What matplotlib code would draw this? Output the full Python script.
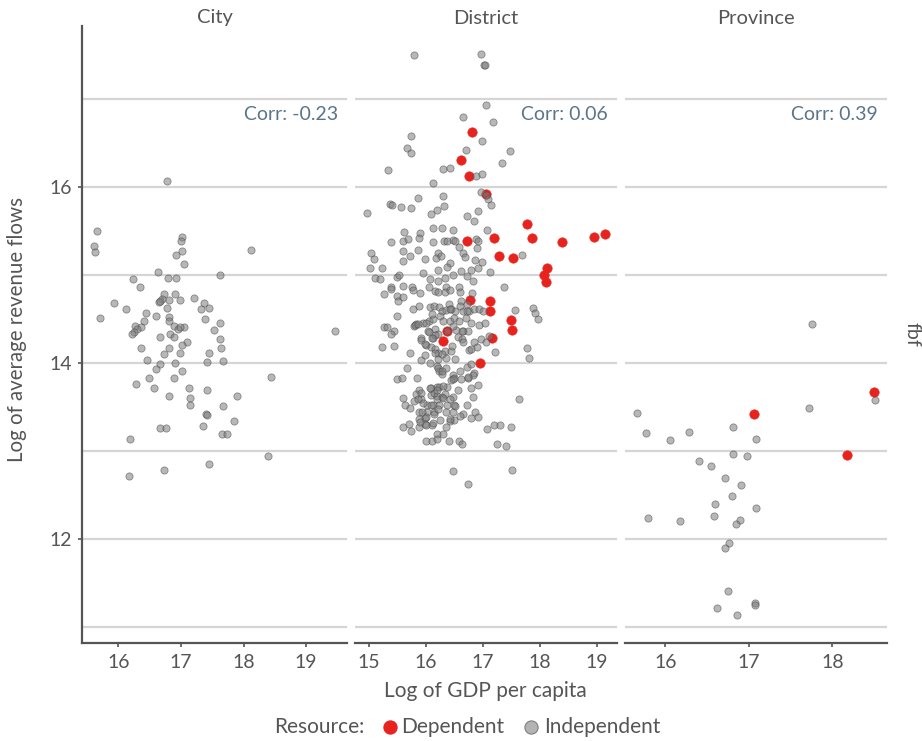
import matplotlib
matplotlib.use("Agg")
import matplotlib.pyplot as plt
from matplotlib.lines import Line2D

plt.rcParams["font.family"] = ["Lato", "DejaVu Sans"]

# ---------------- data ----------------
panels = ["City", "District", "Province"]
corr_labels = ["Corr: -0.23", "Corr: 0.06", "Corr: 0.39"]
legend_title = "Resource:"
legend_labels = ["Dependent", "Independent"]

city_gdp = [16.77, 15.66, 15.61, 15.62, 17.01, 17.00, 17.02, 16.92, 17.05, 18.12,
            16.63, 16.79, 16.92, 17.63, 16.23, 16.35, 16.73, 16.91, 17.20, 15.93,
            16.12, 16.70, 16.65, 16.67, 16.81, 16.98, 17.36, 17.32, 17.45, 16.77,
            16.44, 16.60, 15.71, 16.41, 16.81, 16.80, 17.38, 17.63, 16.27, 16.36,
            16.29, 16.25, 16.22, 16.88, 16.95, 17.04, 16.98, 17.53, 19.46, 16.83,
            16.89, 16.67, 17.10, 17.01, 17.63, 17.64, 16.36, 16.81, 16.72, 16.99,
            17.45, 16.45, 16.66, 16.90, 17.41, 17.67, 16.60, 17.01, 16.49, 16.88,
            18.44, 16.28, 16.57, 17.13, 17.41, 16.80, 17.90, 17.15, 17.15, 17.67,
            17.40, 17.42, 17.85, 17.35, 16.67, 16.76, 17.65, 17.73, 16.19, 18.39,
            17.45, 16.73, 16.17]
city_rev = [16.07, 15.50, 15.33, 15.26, 15.43, 15.39, 15.27, 15.23, 15.13, 15.29,
            15.04, 14.97, 14.97, 15.00, 14.95, 14.86, 14.78, 14.78, 14.74, 14.68,
            14.61, 14.73, 14.69, 14.71, 14.72, 14.72, 14.68, 14.62, 14.63, 14.63,
            14.57, 14.54, 14.51, 14.48, 14.52, 14.48, 14.50, 14.45, 14.42, 14.41,
            14.39, 14.35, 14.33, 14.42, 14.39, 14.41, 14.41, 14.38, 14.36, 14.33,
            14.30, 14.30, 14.24, 14.21, 14.27, 14.17, 14.17, 14.17, 14.10, 14.12,
            14.11, 14.04, 13.99, 14.00, 14.01, 14.02, 13.93, 13.91, 13.83, 13.83,
            13.84, 13.76, 13.72, 13.72, 13.70, 13.63, 13.63, 13.60, 13.53, 13.51,
            13.42, 13.41, 13.34, 13.29, 13.26, 13.26, 13.20, 13.20, 13.14, 12.95,
            12.86, 12.79, 12.72]

district_dep_gdp = [16.81, 16.62, 16.75, 17.06, 17.77, 16.73, 17.19, 17.86, 18.39, 18.95,
                    19.14, 17.28, 17.52, 18.13, 18.07, 18.10, 16.78, 17.13, 17.13, 17.49,
                    17.51, 16.37, 17.16, 16.30, 16.95]
district_dep_rev = [16.63, 16.31, 16.13, 15.92, 15.58, 15.39, 15.42, 15.42, 15.38, 15.43,
                    15.47, 15.22, 15.19, 15.08, 15.00, 14.92, 14.72, 14.71, 14.59, 14.49,
                    14.38, 14.37, 14.28, 14.25, 14.00]

district_ind_gdp = [15.79, 16.97, 17.02, 17.03, 17.06, 16.65, 17.17, 15.74, 16.98, 15.68,
                    15.74, 16.70, 17.48, 17.34, 15.34, 16.31, 16.43, 16.88, 16.99, 16.12,
                    16.97, 17.06, 16.31, 17.09, 17.14, 15.86, 15.37, 15.41, 15.57, 15.75,
                    16.32, 16.20, 14.97, 16.09, 16.73, 16.92, 16.84, 15.62, 15.90, 16.12,
                    16.29, 16.48, 17.07, 15.40, 15.60, 15.69, 15.88, 16.13, 16.32, 16.37,
                    16.47, 16.51, 16.88, 16.91, 16.58, 16.90, 15.04, 15.60, 15.87, 16.21,
                    16.66, 17.68, 15.09, 15.73, 15.99, 16.18, 16.26, 16.43, 16.69, 16.86,
                    16.98, 15.02, 15.23, 16.22, 16.37, 16.61, 16.80, 16.91, 17.12, 15.12,
                    15.20, 15.49, 15.53, 15.96, 16.07, 16.21, 16.34, 16.48, 16.72, 16.83,
                    17.37, 15.40, 15.61, 15.76, 16.06, 16.36, 16.59, 15.60,
                    15.27, 15.39, 15.50, 15.52, 15.61, 15.77, 15.90, 16.16, 16.21, 16.33,
                    16.43, 16.60, 16.81, 16.41, 16.61, 16.73, 15.78, 15.89, 16.08, 16.14,
                    16.23, 16.29, 16.36, 16.45, 16.52, 16.65, 16.76, 16.84, 16.93, 17.01,
                    17.57, 17.87, 17.92, 17.97, 15.50, 15.79, 15.83, 15.96, 16.06, 16.13,
                    16.11, 16.25, 16.30, 16.43, 16.50, 16.59, 16.71, 16.80, 16.94, 17.04,
                    15.27, 15.33, 15.45, 15.39, 16.38, 16.17, 16.04, 15.92, 16.13, 16.21,
                    16.53, 16.57, 16.63, 16.66, 16.74, 16.85, 16.97, 17.05, 17.11, 15.23,
                    15.45, 15.73, 16.00, 16.09, 16.17, 16.21, 16.33, 16.44, 16.51, 16.76,
                    16.89, 17.21, 17.78, 17.80, 15.91, 15.99, 16.07, 16.36, 16.73, 16.79,
                    15.67, 16.20, 16.36, 16.23, 16.28, 16.60, 16.85, 15.50, 15.59, 15.85,
                    16.47, 16.50, 16.45, 16.62, 16.74, 16.82, 16.57, 15.89, 16.09, 16.19,
                    16.24, 16.38, 16.80, 16.91, 15.83, 15.92, 16.10, 16.15, 16.19, 16.29,
                    16.34, 16.48, 16.83, 15.61, 15.64, 15.79, 15.92, 16.02, 16.13, 16.23,
                    16.37, 16.50, 16.72, 17.63, 15.72, 15.89, 16.02, 16.15, 16.36, 16.47,
                    16.65, 16.87, 16.91, 16.79, 15.89, 15.98, 16.25, 16.42, 16.50, 15.61,
                    15.71, 15.75, 15.89, 15.99, 16.11, 16.36, 17.08, 17.19, 17.30, 17.50,
                    16.19, 16.30, 16.00, 16.11, 16.20, 16.41, 16.59, 16.63, 17.24, 17.41,
                    16.47, 17.51, 16.74,
                    15.81, 15.87, 16.01, 16.05, 16.17, 16.11, 15.92, 15.99, 16.17, 16.21,
                    16.28, 16.22, 16.29, 16.08, 16.20, 16.30, 15.87, 15.96, 16.10, 16.19,
                    16.30, 15.93, 16.01, 16.14, 16.22, 15.90, 16.01, 16.12, 16.43, 16.60,
                    16.72, 16.48, 16.63, 16.46, 16.66, 16.80, 16.48, 16.74, 16.43, 16.51,
                    16.43, 16.60]
district_ind_rev = [17.50, 17.51, 17.39, 17.38, 16.93, 16.79, 16.74, 16.58, 16.52, 16.44,
                    16.39, 16.42, 16.41, 16.27, 16.19, 16.21, 16.22, 16.13, 16.15, 16.04,
                    15.94, 15.91, 15.90, 15.86, 15.80, 15.87, 15.81, 15.80, 15.77, 15.76,
                    15.78, 15.74, 15.70, 15.69, 15.67, 15.73, 15.61, 15.49, 15.48, 15.53,
                    15.53, 15.51, 15.51, 15.37, 15.39, 15.41, 15.42, 15.37, 15.39, 15.39,
                    15.40, 15.39, 15.41, 15.39, 15.32, 15.31, 15.25, 15.27, 15.28, 15.25,
                    15.25, 15.23, 15.18, 15.22, 15.18, 15.19, 15.22, 15.14, 15.20, 15.17,
                    15.15, 15.08, 15.08, 15.06, 15.09, 15.05, 15.06, 15.08, 15.04, 14.97,
                    14.95, 14.98, 15.00, 15.02, 14.95, 14.93, 14.97, 15.00, 14.99, 14.93,
                    14.87, 14.86, 14.88, 14.86, 14.87, 14.86, 14.86, 15.16,
                    14.78, 14.84, 14.76, 14.70, 14.75, 14.83, 14.80, 14.82, 14.81, 14.81,
                    14.83, 14.81, 14.80, 14.67, 14.70, 14.67, 14.62, 14.65, 14.64, 14.65,
                    14.64, 14.59, 14.60, 14.62, 14.59, 14.59, 14.59, 14.62, 14.61, 14.59,
                    14.60, 14.63, 14.57, 14.50, 14.54, 14.42, 14.44, 14.46, 14.48, 14.50,
                    14.56, 14.53, 14.48, 14.48, 14.51, 14.48, 14.51, 14.46, 14.43, 14.45,
                    14.41, 14.41, 14.36, 14.33, 14.36, 14.39, 14.36, 14.28, 14.29, 14.33,
                    14.38, 14.30, 14.27, 14.36, 14.36, 14.24, 14.27, 14.24, 14.31, 14.18,
                    14.19, 14.11, 14.21, 14.18, 14.16, 14.11, 14.14, 14.14, 14.05, 14.15,
                    14.18, 14.13, 14.17, 14.06, 14.04, 14.09, 14.00, 14.06, 13.96, 13.99,
                    13.95, 13.97, 13.95, 13.91, 13.88, 13.91, 13.89, 13.82, 13.83, 13.83,
                    13.86, 13.83, 13.81, 13.82, 13.83, 13.86, 13.70, 13.69, 13.72, 13.73,
                    13.73, 13.73, 13.72, 13.75, 13.65, 13.66, 13.64, 13.66, 13.63, 13.62,
                    13.65, 13.62, 13.61, 13.60, 13.53, 13.57, 13.59, 13.52, 13.53, 13.52,
                    13.52, 13.53, 13.52, 13.59, 13.49, 13.44, 13.45, 13.45, 13.45, 13.45,
                    13.42, 13.44, 13.39, 13.38, 13.37, 13.38, 13.35, 13.34, 13.35, 13.28,
                    13.31, 13.23, 13.27, 13.31, 13.30, 13.27, 13.25, 13.30, 13.30, 13.28,
                    13.20, 13.19, 13.11, 13.12, 13.14, 13.12, 13.11, 13.08, 13.08, 13.06,
                    12.78, 12.79, 12.63,
                    14.43, 14.44, 14.45, 14.35, 14.32, 14.29, 14.26, 14.22, 14.12, 14.05,
                    14.10, 13.95, 13.91, 13.72, 13.70, 13.74, 13.59, 13.55, 13.52, 13.59,
                    13.60, 13.44, 13.39, 13.42, 13.48, 13.33, 13.30, 13.32, 14.61, 14.65,
                    14.59, 14.42, 14.37, 14.20, 14.24, 14.16, 13.82, 13.84, 13.59, 13.51,
                    13.36, 13.40]

province_dep_gdp = [17.06, 18.50, 18.17]
province_dep_rev = [13.42, 13.67, 12.96]
province_ind_gdp = [17.76, 18.51, 17.72, 15.66, 15.77, 16.06, 16.28, 16.81, 17.08, 16.81,
                    16.98, 16.40, 16.55, 16.72, 16.91, 16.80, 16.60, 17.08, 15.79, 16.17,
                    16.58, 16.89, 16.84, 16.76, 16.71, 16.75, 16.62, 16.86, 17.07, 17.07]
province_ind_rev = [14.44, 13.58, 13.49, 13.43, 13.21, 13.13, 13.22, 13.28, 13.14, 12.97,
                    12.94, 12.89, 12.83, 12.69, 12.62, 12.49, 12.40, 12.35, 12.24, 12.21,
                    12.26, 12.22, 12.17, 11.96, 11.90, 11.41, 11.22, 11.14, 11.28, 11.25]

y_ticks = [12, 14, 16]
y_grid = [11, 12, 13, 14, 15, 16, 17]
x_ticks = [[16, 17, 18, 19], [15, 16, 17, 18, 19], [16, 17, 18]]

# ---------------- style ----------------
RED = "#e8231d"
GRAY_FACE = "#7d7d7d"
GRAY_EDGE = "#454545"
AXIS = "#555555"
GRID = "#d5d5d5"
TEXT = "#555555"
CORR = "#5a7489"

W, H = 922, 741
fig = plt.figure(figsize=(W / 100, H / 100), dpi=100)


def rect(x0, x1, y0, y1):
    return [x0 / W, 1 - y1 / H, (x1 - x0) / W, (y1 - y0) / H]


def expand(vals, frac=0.05):
    lo, hi = min(vals), max(vals)
    pad = (hi - lo) * frac
    return lo - pad, hi + pad


all_rev = city_rev + district_dep_rev + district_ind_rev + province_dep_rev + province_ind_rev
ylim = expand(all_rev)

panel_px = [(82, 347), (355, 617), (625, 887)]
top_px, bottom_px = 26, 643
panel_h = bottom_px - top_px

data = [
    ([], [], city_gdp, city_rev),
    (district_dep_gdp, district_dep_rev, district_ind_gdp, district_ind_rev),
    (province_dep_gdp, province_dep_rev, province_ind_gdp, province_ind_rev),
]

for i, (name, (x0, x1)) in enumerate(zip(panels, panel_px)):
    ax = fig.add_axes(rect(x0, x1, top_px, bottom_px))
    dx, dy, ix, iy = data[i]
    ax.set_xlim(*expand(list(dx) + list(ix)))
    ax.set_ylim(*ylim)
    for g in y_grid:
        ax.axhline(g, color=GRID, lw=1.6, zorder=0)
    if dx:
        ax.scatter(dx, dy, s=46, color=RED, edgecolors=RED, linewidths=0.4, zorder=2)
    ax.scatter(ix, iy, s=27, facecolor=GRAY_FACE, edgecolors=GRAY_EDGE,
               linewidths=0.6, alpha=0.55, zorder=3)

    for side in ("top", "right"):
        ax.spines[side].set_visible(False)
    ax.spines["bottom"].set_color(AXIS)
    ax.spines["bottom"].set_linewidth(1.6)
    if i == 0:
        ax.spines["left"].set_color(AXIS)
        ax.spines["left"].set_linewidth(1.6)
        ax.set_yticks(y_ticks)
        ax.tick_params(axis="y", length=3, width=1.2, color=AXIS, labelcolor=TEXT,
                       labelsize=14, pad=4)
    else:
        ax.spines["left"].set_visible(False)
        ax.set_yticks([])
    ax.set_xticks(x_ticks[i])
    ax.tick_params(axis="x", length=3, width=1.2, color=AXIS, labelcolor=TEXT,
                   labelsize=14, pad=5)
    ax.patch.set_alpha(0)

    ax.text(0.5, 1.0 + 8 / panel_h, name, transform=ax.transAxes,
            ha="center", va="center", fontsize=14.5, color=TEXT)
    ax.text(1 - 9 / (x1 - x0), (bottom_px - 115) / panel_h, corr_labels[i],
            transform=ax.transAxes, ha="right", va="center", fontsize=14, color=CORR)

fig.text(912 / W, 1 - 334 / H, "fbf", rotation=-90, ha="center", va="center",
         fontsize=14, color=TEXT)
fig.text(17 / W, 1 - 330 / H, "Log of average revenue flows", rotation=90,
         ha="center", va="center", fontsize=14.8, color=TEXT)
fig.text(485 / W, 1 - 691 / H, "Log of GDP per capita", ha="center", va="center",
         fontsize=15, color=TEXT)

# legend row
leg_y = 1 - 727 / H
fig.text(364 / W, leg_y, legend_title, ha="right", va="center", fontsize=15, color=TEXT)
key_style = [dict(markerfacecolor=RED, markeredgecolor=RED),
             dict(markerfacecolor="#b3b3b3", markeredgecolor="#7f7f7f")]
for kx, tx, lab, st in zip([390, 531], [401, 544], legend_labels, key_style):
    fig.add_artist(Line2D([kx / W], [leg_y], transform=fig.transFigure, marker="o",
                          ls="", markersize=9.5, markeredgewidth=0.8, **st))
    fig.text(tx / W, leg_y, lab, ha="left", va="center", fontsize=15, color=TEXT)

fig.savefig("out.png", dpi=100)
